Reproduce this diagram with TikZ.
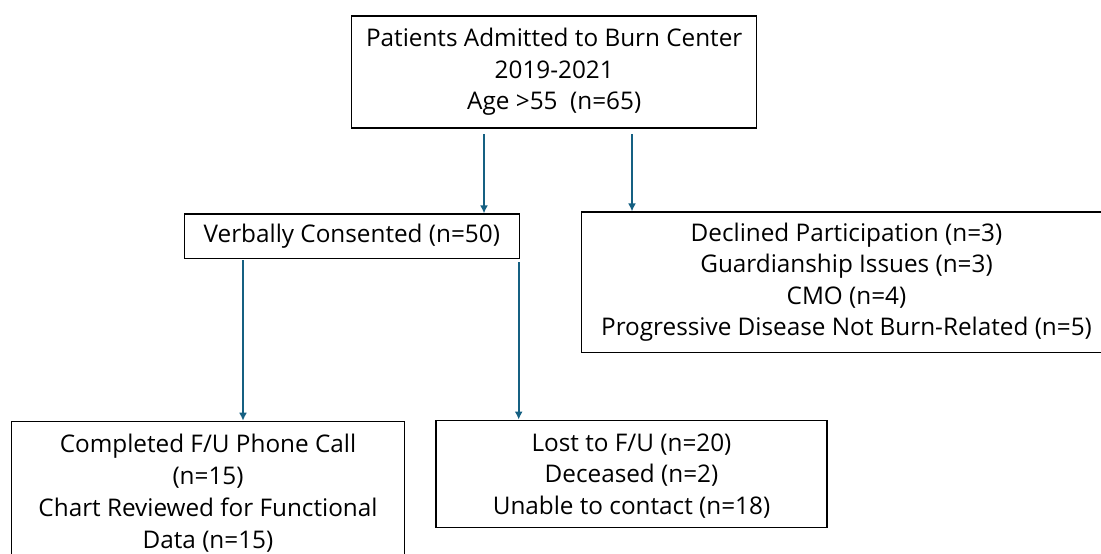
\documentclass[tikz,border=0pt]{standalone}
\usepackage{fontspec}
\setmainfont{Open Sans}
\usetikzlibrary{arrows.meta}
\definecolor{arrowblue}{RGB}{21,96,130}
\begin{document}
\begin{tikzpicture}[x=1pt,y=-1pt,
  box/.style={draw=black,line width=1.1pt,align=center,inner sep=0pt,
    font=\fontsize{24.3}{31.5}\selectfont},
  flow/.style={draw=arrowblue,line width=1.6pt,-{Latex[length=8pt,width=8pt]}}]
\useasboundingbox (0,0) rectangle (1101,554);
\clip (0,0) rectangle (1101,554);
\node[box,minimum width=405pt,minimum height=112pt] (top) at (554.2,72)
  {Patients Admitted to Burn Center\\2019-2021\\Age >55\ \ (n=65)};
\node[box,minimum width=335pt,minimum height=44.7pt] (vc) at (351.8,236.3)
  {\raisebox{-2pt}{Verbally Consented\ (n=50)}};
\node[box,minimum width=529.6pt,minimum height=140.7pt] (excl) at (846.5,282.3)
  {Declined Participation (n=3)\\Guardianship Issues (n=3)\\CMO (n=4)\\Progressive Disease Not Burn-Related (n=5)};
\node[box,minimum width=392.3pt,minimum height=150pt,anchor=north] (done) at (208,420.7)
  {};
\node[align=center,font=\fontsize{24.3}{32}\selectfont] (donetext) at (208,493)
  {Completed F/U Phone Call\\(n=15)\\Chart Reviewed for Functional\\Data (n=15)};
\node[box,minimum width=391pt,minimum height=107.7pt] (lost) at (631.5,474)
  {};
\node[align=center,font=\fontsize{24.3}{31.5}\selectfont] (losttext) at (631.5,476)
  {Lost to F/U (n=20)\\Deceased (n=2)\\Unable to contact (n=18)};
\coordinate (t1) at (484,134);
\coordinate (t2) at (632,134);
\coordinate (v1) at (243,260);
\coordinate (v2) at (518.7,262);
\draw[flow] (t1) -- (t1 |- vc.north);
\draw[flow] (t2) -- (t2 |- excl.north);
\draw[flow] (v1) -- (v1 |- done.north);
\draw[flow] (v2) -- (v2 |- lost.north);
\end{tikzpicture}
\end{document}
